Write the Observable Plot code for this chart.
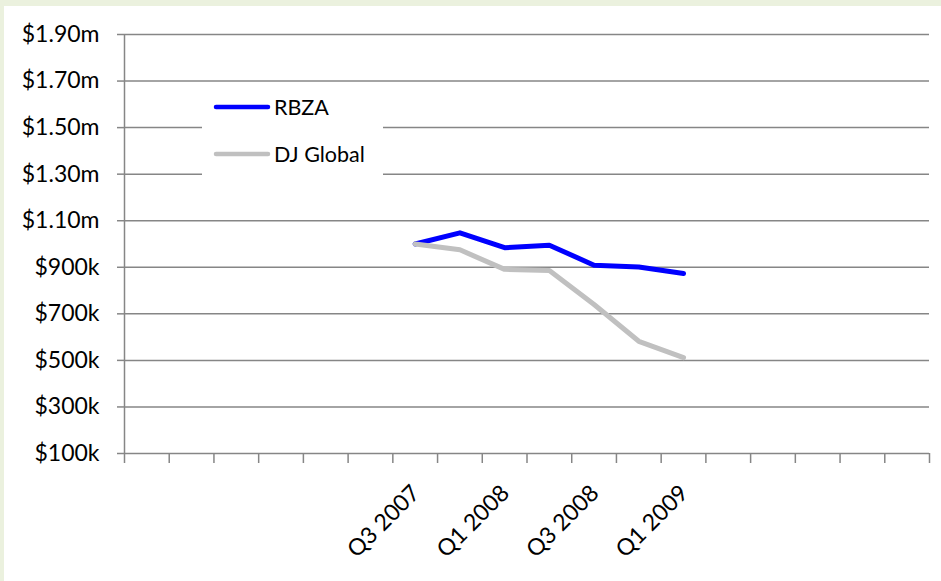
<!DOCTYPE html>
<html>
<head>
<meta charset="utf-8">
<script src="https://cdn.jsdelivr.net/npm/d3@7"></script>
<script src="https://cdn.jsdelivr.net/npm/@observablehq/plot@0.6"></script>
<style>
  html, body { margin: 0; padding: 0; background: #ebf1de; }
  #wrap { position: absolute; left: 4px; top: 6px; width: 937px; height: 575px; background: #fff; overflow: hidden; }
  #legend { position: absolute; left: 198px; top: 82px; width: 181px; height: 97px; background: #fff; font-family: Lato, "Open Sans", sans-serif; font-size: 21.5px; color: #000; }
  .row { position: absolute; left: 10px; height: 24px; display: flex; align-items: center; }
  .row svg { width: 60px; height: 8px; margin-right: 2px; }
</style>
</head>
<body>
<div id="wrap"></div>
<script>
const quarters = ["Q1 2006","Q2 2006","Q3 2006","Q4 2006","Q1 2007","Q2 2007","Q3 2007","Q4 2007",
  "Q1 2008","Q2 2008","Q3 2008","Q4 2008","Q1 2009","Q2 2009","Q3 2009","Q4 2009","Q1 2010","Q2 2010"];
const labeledQuarters = ["Q3 2007","Q1 2008","Q3 2008","Q1 2009"];
const seriesQuarters = ["Q3 2007","Q4 2007","Q1 2008","Q2 2008","Q3 2008","Q4 2008","Q1 2009"];
const rbza = [1000000, 1048000, 984000, 995000, 909000, 901000, 873000];
const djGlobal = [1000000, 975000, 891000, 886000, 740000, 582000, 512000];
const yTicks = [100000, 300000, 500000, 700000, 900000, 1100000, 1300000, 1500000, 1700000, 1900000];
const seriesNames = ["RBZA", "DJ Global"];
const seriesColors = ["#0000ff", "#c0c0c0"];

const xi = q => quarters.indexOf(q) + 0.5;
const rows = [];
seriesQuarters.forEach((q, i) => {
  rows.push({series: "RBZA", q, v: rbza[i]});
  rows.push({series: "DJ Global", q, v: djGlobal[i]});
});
const fmt = v => v >= 1000000 ? "$" + (v / 1000000).toFixed(2) + "m" : "$" + Math.round(v / 1000) + "k";

const chart = Plot.plot({
  width: 937,
  height: 575,
  marginLeft: 120,
  marginRight: 12,
  marginTop: 28,
  marginBottom: 128,
  style: {fontFamily: "Lato, 'Open Sans', sans-serif", fontSize: "23px", color: "#000", background: "transparent"},
  x: {type: "linear", domain: [0, quarters.length]},
  y: {domain: [100000, 1900000]},
  color: {domain: seriesNames, range: seriesColors},
  marks: [
    Plot.ruleY(yTicks, {stroke: "#868686", strokeWidth: 1.5}),
    Plot.axisY({ticks: yTicks, tickFormat: fmt, tickSize: 7, tickPadding: 18, stroke: "#868686", strokeWidth: 1.5, strokeOpacity: 1, fontSize: 23, label: null}),
    Plot.axisX({ticks: d3.range(quarters.length + 1), tickFormat: () => "", tickSize: 10, stroke: "#868686", strokeWidth: 1.5, strokeOpacity: 1, label: null}),
    Plot.ruleX([0], {stroke: "#868686", strokeWidth: 1.5}),
    Plot.text(labeledQuarters, {x: xi, frameAnchor: "bottom", rotate: -45, textAnchor: "end", dx: 6, dy: 41, fontSize: 23, fill: "#000"}),
    Plot.line(rows, {x: d => xi(d.q), y: "v", z: "series", stroke: "series", strokeWidth: 5, strokeLinejoin: "round", strokeLinecap: "round", sort: {channel: "z", order: "descending"}})
  ]
});
const wrap = document.getElementById("wrap");
wrap.appendChild(chart);

const legend = document.createElement("div");
legend.id = "legend";
seriesNames.forEach((name, i) => {
  const row = document.createElement("div");
  row.className = "row";
  row.style.top = (i === 0 ? 7 : 54) + "px";
  row.innerHTML = `<svg viewBox="0 0 60 8"><line x1="4" y1="4" x2="56" y2="4" stroke="${seriesColors[i]}" stroke-width="4.5" stroke-linecap="round"/></svg><span>${name}</span>`;
  legend.appendChild(row);
});
wrap.appendChild(legend);
</script>
</body>
</html>
